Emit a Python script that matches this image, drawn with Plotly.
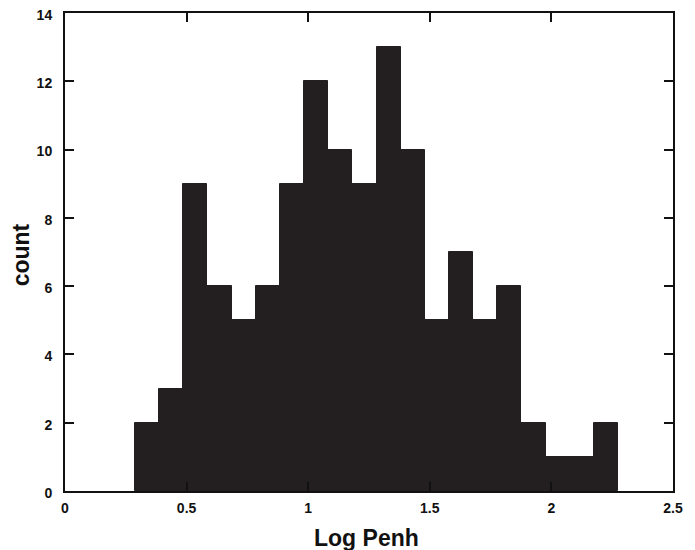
import plotly.graph_objects as go

# Histogram data
bin_start = 0.288
bin_width = 0.0993
counts = [2, 3, 9, 6, 5, 6, 9, 12, 10, 9, 13, 10, 5, 7, 5, 6, 2, 1, 1, 2]
x_ticks = [0, 0.5, 1, 1.5, 2, 2.5]
x_tick_labels = ["0", "0.5", "1", "1.5", "2", "2.5"]
y_ticks = [0, 2, 4, 6, 8, 10, 12, 14]

centers = [bin_start + bin_width * (i + 0.5) for i in range(len(counts))]

fig = go.Figure()
fig.add_trace(go.Bar(
    x=centers, y=counts, width=[bin_width] * len(counts),
    marker=dict(color="#231f20", line=dict(color="#231f20", width=1)),
    showlegend=False,
))

font_family = "Liberation Sans, Arial, Helvetica, sans-serif"
axis_common = dict(
    showline=True, linecolor="#111", linewidth=2, mirror="ticks",
    ticks="inside", ticklen=9, tickwidth=2, tickcolor="#111",
    showgrid=False, zeroline=False, automargin=False,
    ticklabeloverflow="allow",
    tickfont=dict(family=font_family, size=14, color="#111", weight="bold"),
)

# page body adds an 8px offset, so the figure is sized to the remaining area
fig.update_layout(
    width=687, height=542,
    margin=dict(l=57, r=22, t=4.5, b=59.3),
    paper_bgcolor="white", plot_bgcolor="white",
    bargap=0,
    xaxis=dict(range=[0, 2.5], tickvals=x_ticks, ticktext=x_tick_labels,
               ticklabelstandoff=3, **axis_common),
    yaxis=dict(range=[0, 14], tickvals=y_ticks, ticklabelstandoff=8,
               ticklabelshift=2, **axis_common),
    annotations=[
        dict(text="Log Penh", xref="paper", yref="paper", x=0.5, y=0,
             xanchor="center", yanchor="middle", yshift=-47, xshift=-3,
             showarrow=False,
             font=dict(family=font_family, size=23, color="#111", weight="bold")),
        dict(text="count", xref="paper", yref="paper", x=0, y=0.493,
             xanchor="center", yanchor="middle", xshift=-44, textangle=-90,
             showarrow=False,
             font=dict(family=font_family, size=23, color="#111", weight="bold")),
    ],
)

fig.write_html("out.html")
